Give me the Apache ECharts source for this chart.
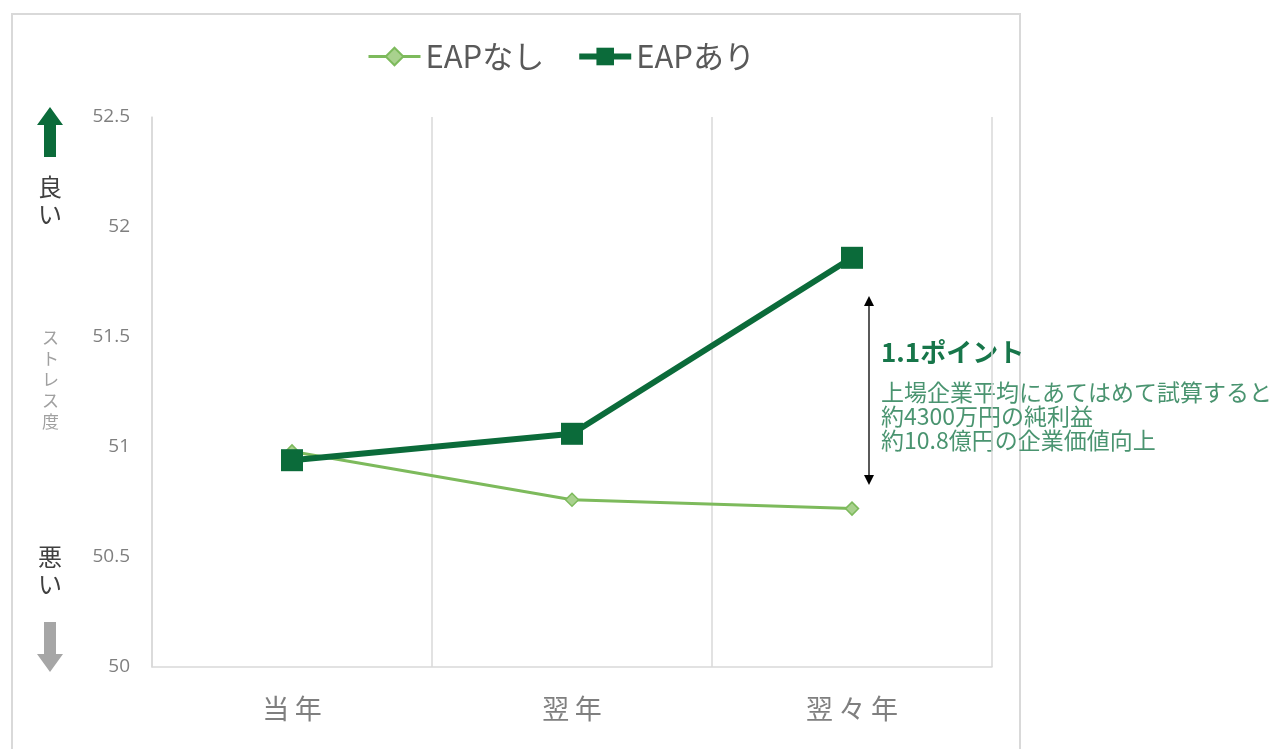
<!DOCTYPE html>
<html>
<head>
<meta charset="utf-8">
<script src="https://cdn.jsdelivr.net/npm/echarts@6/dist/echarts.min.js"></script>
<style>
  html, body { margin: 0; padding: 0; background: #fff; }
  #chart { width: 1279px; height: 749px; }
</style>
</head>
<body>
<div id="chart"></div>
<script>
var categories = ['当年', '翌年', '翌々年'];
var withoutEap = [50.98, 50.76, 50.72];
var withEap = [50.94, 51.06, 51.86];
var seriesNames = ['EAPなし', 'EAPあり'];

var FONT = '"Noto Sans CJK JP", "Noto Sans", sans-serif';
var chart = echarts.init(document.getElementById('chart'));

chart.setOption({
  backgroundColor: '#fff',
  animation: false,
  textStyle: { fontFamily: FONT },
  legend: {
    left: 362,
    top: 36,
    itemWidth: 52,
    itemHeight: 22,
    itemGap: 32,
    textStyle: { fontSize: 31, color: '#595959', fontFamily: FONT },
    data: [
      { name: seriesNames[0], lineStyle: { width: 3 } },
      { name: seriesNames[1], lineStyle: { width: 6 } }
    ]
  },
  grid: { left: 152, right: 287, top: 117, bottom: 82 },
  xAxis: {
    type: 'category',
    data: categories,
    boundaryGap: true,
    axisLine: { lineStyle: { color: '#d9d9d9', width: 1.5 } },
    axisTick: { show: false },
    splitLine: { show: true, lineStyle: { color: '#d9d9d9', width: 1.5 } },
    axisLabel: {
      margin: 28,
      fontSize: 27,
      color: '#7f7f7f',
      formatter: function (v) { return v.split('').join('\u2009'); }
    }
  },
  yAxis: {
    type: 'value',
    min: 50,
    max: 52.5,
    interval: 0.5,
    axisLine: { show: true, lineStyle: { color: '#d9d9d9', width: 1.5 } },
    axisTick: { show: false },
    splitLine: { show: false },
    axisLabel: { margin: 22, fontSize: 19, color: '#7f7f7f', fontFamily: '"Open Sans", sans-serif' }
  },
  series: [
    {
      name: seriesNames[0],
      type: 'line',
      data: withoutEap,
      symbol: 'diamond',
      symbolSize: 13,
      z: 2,
      lineStyle: { color: '#7dba5c', width: 3 },
      itemStyle: { color: '#a9d18e', borderColor: '#7dba5c', borderWidth: 1.5 }
    },
    {
      name: seriesNames[1],
      type: 'line',
      data: withEap,
      symbol: 'rect',
      symbolSize: 22,
      z: 3,
      lineStyle: { color: '#0b6b3a', width: 6 },
      itemStyle: { color: '#0b6b3a' }
    }
  ],
  graphic: [
    {
      type: 'rect',
      shape: { x: 12, y: 14, width: 1008, height: 760 },
      style: { fill: 'none', stroke: '#d9d9d9', lineWidth: 2 },
      silent: true
    },
    // up arrow (good)
    {
      type: 'polygon',
      shape: { points: [[50, 107], [63, 125], [56, 125], [56, 157], [44, 157], [44, 125], [37, 125]] },
      style: { fill: '#0b6b3a' }
    },
    {
      type: 'text',
      left: 38, top: 173,
      style: { text: '良\nい', fontSize: 24, lineHeight: 27, fill: '#404040', fontFamily: FONT }
    },
    {
      type: 'text',
      left: 42, top: 327,
      style: { text: 'ス\nト\nレ\nス\n度', fontSize: 17, lineHeight: 21, fill: '#a0a0a0', fontFamily: FONT }
    },
    {
      type: 'text',
      left: 38, top: 543,
      style: { text: '悪\nい', fontSize: 24, lineHeight: 27, fill: '#404040', fontFamily: FONT }
    },
    // down arrow (bad)
    {
      type: 'polygon',
      shape: { points: [[44, 622], [56, 622], [56, 654], [63, 654], [50, 672], [37, 654], [44, 654]] },
      style: { fill: '#a6a6a6' }
    },
    // double-headed arrow
    {
      type: 'line',
      shape: { x1: 869, y1: 304, x2: 869, y2: 477 },
      style: { stroke: '#000', lineWidth: 1.3 }
    },
    {
      type: 'polygon',
      shape: { points: [[869, 296], [874, 306], [864, 306]] },
      style: { fill: '#000' }
    },
    {
      type: 'polygon',
      shape: { points: [[869, 485], [874, 475], [864, 475]] },
      style: { fill: '#000' }
    },
    {
      type: 'text',
      left: 881, top: 339,
      style: { text: '1.1ポイント', fontSize: 26, fontWeight: 'bold', fill: '#17764a', fontFamily: FONT }
    },
    {
      type: 'text',
      left: 881, top: 380,
      style: {
        text: '上場企業平均にあてはめて試算すると\n約4300万円の純利益\n約10.8億円の企業価値向上',
        fontSize: 23, lineHeight: 24, fill: '#4a9470', fontFamily: FONT
      }
    }
  ]
});
</script>
</body>
</html>
